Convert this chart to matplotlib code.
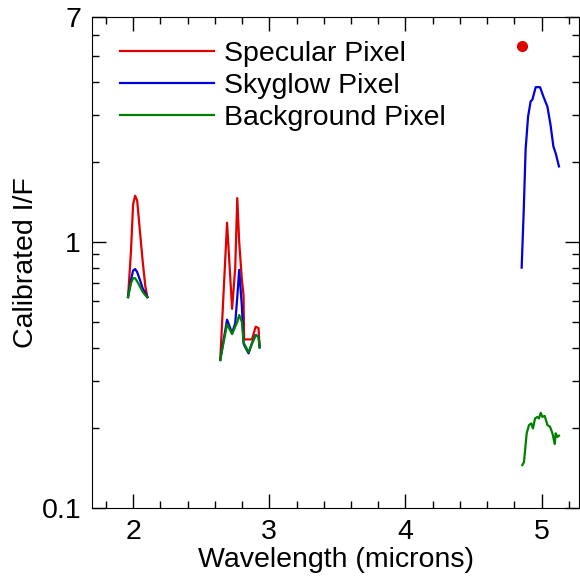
import matplotlib
matplotlib.use("Agg")
import matplotlib.pyplot as plt
from matplotlib.ticker import MultipleLocator, FixedLocator, NullFormatter, FixedFormatter

plt.rcParams['font.family'] = ['Liberation Sans', 'DejaVu Sans']

# left cluster (~2 microns)
wl_a = [1.963, 1.985, 2.000, 2.015, 2.030, 2.050, 2.070, 2.090, 2.105]
spec_a = [0.62, 0.93, 1.38, 1.49, 1.43, 1.10, 0.85, 0.68, 0.62]
sky_a = [0.62, 0.72, 0.78, 0.79, 0.77, 0.72, 0.67, 0.64, 0.62]
bg_a = [0.62, 0.70, 0.73, 0.73, 0.71, 0.68, 0.65, 0.63, 0.62]

# middle cluster (~2.8 microns)
wl_b = [2.640, 2.690, 2.727, 2.750, 2.765, 2.779, 2.799, 2.811, 2.815, 2.848, 2.873, 2.900, 2.921, 2.929]
spec_b = [0.36, 1.18, 0.56, 0.80, 1.46, 1.00, 0.72, 0.63, 0.43, 0.43, 0.43, 0.48, 0.474, 0.404]
sky_b = [0.36, 0.51, 0.454, 0.495, 0.62, 0.785, 0.571, 0.416, 0.41, 0.381, 0.416, 0.447, 0.44, 0.404]
bg_b = [0.36, 0.49, 0.45, 0.48, 0.50, 0.531, 0.50, 0.42, 0.415, 0.385, 0.415, 0.445, 0.44, 0.40]

# right cluster (~5 microns)
wl_c = [4.853, 4.868, 4.882, 4.900, 4.919, 4.932, 4.956, 4.988, 5.012, 5.042, 5.065, 5.086, 5.103, 5.127]
sky_c = [0.80, 1.30, 2.22, 2.95, 3.37, 3.42, 3.81, 3.81, 3.52, 3.22, 2.75, 2.28, 2.15, 1.92]
wl_bg_c = [4.858, 4.870, 4.890, 4.907, 4.924, 4.936, 4.951, 4.968, 4.980, 4.993, 5.005,
           5.022, 5.042, 5.061, 5.079, 5.096, 5.103, 5.115, 5.127]
bg_c = [0.145, 0.149, 0.191, 0.205, 0.208, 0.199, 0.217, 0.220, 0.217, 0.228, 0.220,
        0.222, 0.205, 0.202, 0.191, 0.174, 0.191, 0.185, 0.187]
spec_dot_wl = [4.853]
spec_dot = [5.45]

red = '#e00000'
blue = '#0000e0'
green = '#008000'

fig = plt.figure(figsize=(5.8, 5.8), dpi=100)
ax = fig.add_axes([0.159, 0.124, 0.8395, 0.847])

lw = 1.6
ax.plot(wl_a, spec_a, color=red, lw=lw, label='Specular Pixel')
ax.plot(wl_a, sky_a, color=blue, lw=lw, label='Skyglow Pixel')
ax.plot(wl_a, bg_a, color=green, lw=lw, label='Background Pixel')
ax.plot(wl_b, spec_b, color=red, lw=lw)
ax.plot(wl_b, sky_b, color=blue, lw=lw)
ax.plot(wl_b, bg_b, color=green, lw=lw)
ax.plot(wl_c, sky_c, color=blue, lw=lw)
ax.plot(wl_bg_c, bg_c, color=green, lw=lw)
ax.plot(spec_dot_wl, spec_dot, 'o', color=red, ms=7, mec=red)

ax.set_yscale('log')
ax.set_xlim(1.70, 5.275)
ax.set_ylim(0.1, 7)

ax.xaxis.set_major_locator(MultipleLocator(1))
ax.xaxis.set_minor_locator(MultipleLocator(0.2))
ax.yaxis.set_major_locator(FixedLocator([0.1, 1, 7]))
ax.yaxis.set_major_formatter(FixedFormatter(['0.1', '1', '7']))
ax.yaxis.set_minor_locator(FixedLocator([0.2, 0.3, 0.4, 0.5, 0.6, 0.7, 0.8, 0.9, 2, 3, 4, 5, 6]))
ax.yaxis.set_minor_formatter(NullFormatter())

fs = 20.5
ax.tick_params(which='both', direction='in', top=True, right=True, labelsize=fs, width=1)
ax.tick_params(which='major', length=10, pad=8)
ax.tick_params(which='minor', length=5)

ax.set_xlabel('Wavelength (microns)', fontsize=fs, labelpad=1)
ax.set_ylabel('Calibrated I/F', fontsize=fs, labelpad=2)

ax.legend(loc='upper left', bbox_to_anchor=(0.058, 0.95), frameon=False, fontsize=fs,
          handlelength=3.3, handletextpad=0.35, borderpad=0, borderaxespad=0, labelspacing=0.2)

fig.savefig('out.png', dpi=100)
